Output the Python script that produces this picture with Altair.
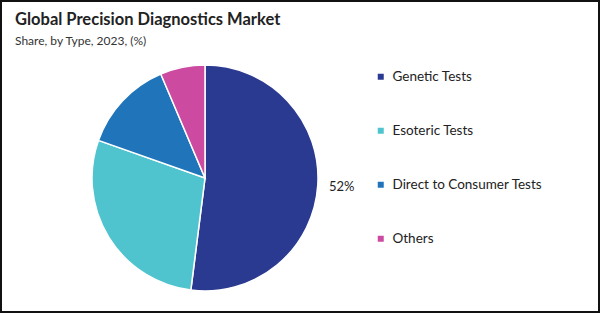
import altair as alt
import pandas as pd

categories = ["Genetic Tests", "Esoteric Tests", "Direct to Consumer Tests", "Others"]
shares = [52.0, 28.4, 13.2, 6.4]
labels = ["52%", "", "", ""]
colors = ["#2B3A91", "#4FC4CF", "#1F74BA", "#CC4AA0"]
title_text = "Global Precision Diagnostics Market"
subtitle_text = "Share, by Type,  2023, (%)"

df = pd.DataFrame({
    "Type": categories,
    "Share": shares,
    "Label": labels,
    "idx": list(range(len(categories))),
})
one = pd.DataFrame({"t": [title_text], "s": [subtitle_text]})

W, H = 600, 313
CX, CY, R = 205, 178, 113

base = alt.Chart(df).encode(
    theta=alt.Theta("Share:Q", stack=True),
    order=alt.Order("idx:Q"),
)

pie = base.mark_arc(radius=R, stroke="white", strokeWidth=1.5).encode(
    x=alt.value(CX),
    y=alt.value(CY),
    color=alt.Color(
        "Type:N",
        scale=alt.Scale(domain=categories, range=colors),
        sort=categories,
        legend=alt.Legend(
            title=None,
            orient="none",
            legendX=374,
            legendY=70,
            symbolType="square",
            symbolSize=36,
            symbolStrokeWidth=0,
            labelFontSize=13.5,
            labelFont="Lato",
            labelColor="#222222",
            rowPadding=39,
            labelOffset=5,
        ),
    ),
)

text = base.mark_text(radius=137, font="Lato", fontSize=13, color="#222222").encode(
    x=alt.value(CX),
    y=alt.value(CY),
    text="Label:N",
)

frame = alt.Chart(one).mark_rect(
    fill=None, stroke="#111111", strokeWidth=2
).encode(
    x=alt.value(1), x2=alt.value(W - 1), y=alt.value(1), y2=alt.value(H - 1)
)

title_txt = alt.Chart(one).mark_text(
    align="left", baseline="alphabetic", font="Lato", fontSize=16.5,
    fontWeight="bold", color="#222222"
).encode(x=alt.value(15), y=alt.value(25), text="t:N")

sub_txt = alt.Chart(one).mark_text(
    align="left", baseline="alphabetic", font="Lato", fontSize=12,
    fontWeight="normal", color="#333333"
).encode(x=alt.value(15), y=alt.value(45), text="s:N")

chart = alt.layer(pie, text, frame, title_txt, sub_txt).properties(
    width=W, height=H, padding=0, autosize=alt.AutoSizeParams(type="none"),
    background="white",
).configure_view(stroke=None)

chart.save("out.html", embed_options={"renderer": "svg", "actions": False})
